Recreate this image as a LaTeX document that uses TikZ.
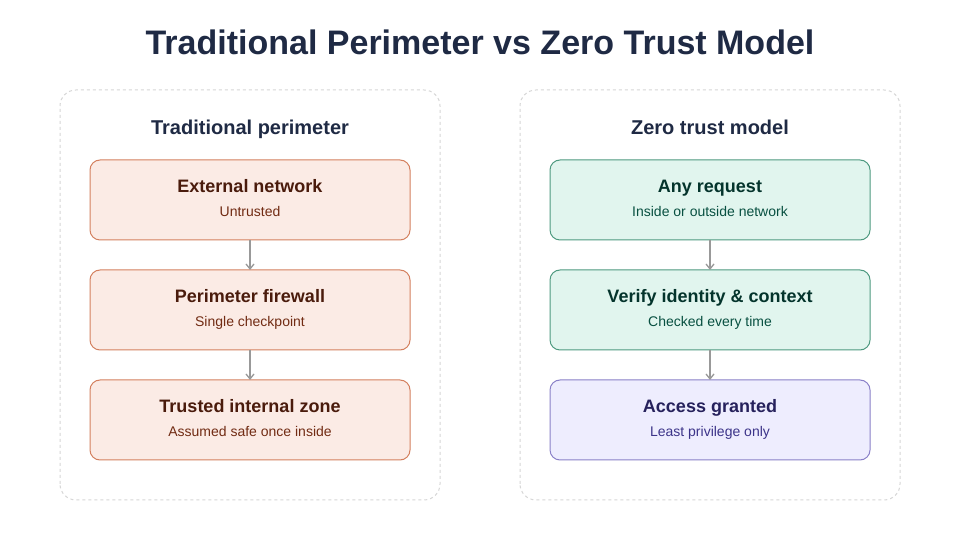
\documentclass[tikz,border=0pt]{standalone}
\usepackage{fontspec}
\setmainfont{Liberation Sans}
\usepackage{xcolor}
\usepackage{tikz}
\usetikzlibrary{arrows.meta, positioning}

\definecolor{inkNavy}{HTML}{1F2A44}
\definecolor{coralFill}{HTML}{FBEBE5}
\definecolor{coralLine}{HTML}{D4805F}
\definecolor{coralHead}{HTML}{4A1B0C}
\definecolor{coralText}{HTML}{712B13}
\definecolor{tealFill}{HTML}{E1F5EE}
\definecolor{tealLine}{HTML}{4E9A80}
\definecolor{tealHead}{HTML}{04342C}
\definecolor{tealText}{HTML}{085041}
\definecolor{violetFill}{HTML}{EEEDFE}
\definecolor{violetLine}{HTML}{8A80C8}
\definecolor{violetHead}{HTML}{26215C}
\definecolor{violetText}{HTML}{3C3489}
\definecolor{panelLine}{HTML}{D6D6D6}
\definecolor{arrowGray}{HTML}{999999}

\newcommand{\headfont}{\fontsize{18}{22}\selectfont\bfseries}

\begin{document}
\begin{tikzpicture}[
    x=1pt, y=1pt,
    node distance=30pt,
    stage/.style={
        rectangle, rounded corners=10pt,
        line width=1pt, outer sep=0pt,
        minimum width=320pt, minimum height=80pt,
        inner sep=0pt,
        text depth=4pt,
        align=center,
        font=\fontsize{14}{24}\selectfont
    },
    coral/.style={stage, draw=coralLine, fill=coralFill, text=coralText},
    teal/.style={stage, draw=tealLine, fill=tealFill, text=tealText},
    violet/.style={stage, draw=violetLine, fill=violetFill, text=violetText},
    panel/.style={draw=panelLine, line width=1pt, dashed, rounded corners=16pt},
    heading/.style={anchor=base, text=inkNavy, font=\fontsize{20}{24}\selectfont\bfseries},
    line/.style={line width=1.3pt, draw=arrowGray, -{Straight Barb[length=5pt, width=8pt]}}
]

\fill[white] (0,0) rectangle (960,540);
\useasboundingbox (0,0) rectangle (960,540);

\node[anchor=base, text=inkNavy, font=\fontsize{34}{40}\selectfont\bfseries] (title)
    at (480,485) {Traditional Perimeter vs Zero Trust Model};

% Panels
\draw[panel] (60,40) rectangle (440,450);
\draw[panel] (520,40) rectangle (900,450);

\node[heading] (oldhead) at (250,405) {Traditional perimeter};
\node[heading] (newhead) at (710,405) {Zero trust model};

% Traditional perimeter
\node[coral] (ext) at (250,340)
    {{\headfont\color{coralHead}External network}\\Untrusted};

\node[coral, below=of ext] (fw)
    {{\headfont\color{coralHead}Perimeter firewall}\\Single checkpoint};

\node[coral, below=of fw] (zone)
    {{\headfont\color{coralHead}Trusted internal zone}\\Assumed safe once inside};

% Zero trust model
\node[teal] (req) at (710,340)
    {{\headfont\color{tealHead}Any request}\\Inside or outside network};

\node[teal, below=of req] (verify)
    {{\headfont\color{tealHead}Verify identity \& context}\\Checked every time};

\node[violet, below=of verify] (grant)
    {{\headfont\color{violetHead}Access granted}\\Least privilege only};

% Connecting line
\draw[line] (ext) -- (fw);
\draw[line] (fw) -- (zone);
\draw[line] (req) -- (verify);
\draw[line] (verify) -- (grant);

\end{tikzpicture}
\end{document}
